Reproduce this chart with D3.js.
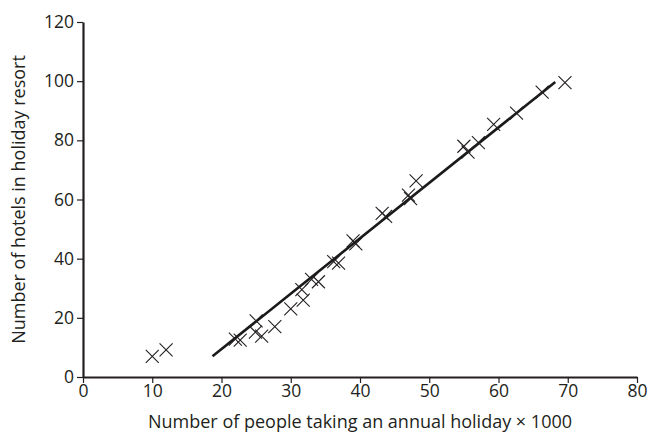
<!DOCTYPE html>
<html>
<head>
<meta charset="utf-8">
<script src="https://cdn.jsdelivr.net/npm/d3@7"></script>
<style>
  html, body { margin: 0; padding: 0; background: #fff; }
  text { font-family: "Open Sans", "Noto Sans", sans-serif; fill: #231f20; }
</style>
</head>
<body>
<div id="chart"></div>
<script>
// people taking an annual holiday (x1000) vs hotels in the resort
const people = [10, 12, 22, 22.7, 25, 24.9, 25.8, 27.7, 30, 31.8, 31.6, 33, 34, 36.2, 36.9, 39, 39.4,
  43.2, 43.7, 47, 47.3, 48.1, 55, 55.6, 57.1, 59.3, 62.6, 66.3, 69.6];
const hotels = [7, 9.2, 12.8, 12.5, 19, 15.2, 13.8, 17, 23, 26, 29.5, 33, 32.2, 39, 38.5, 46, 45,
  55.3, 54.3, 61.5, 60.3, 66.3, 78, 76, 79.2, 85.4, 89.2, 96.3, 99.5];
const fitX = [18.7, 68.2];
const fitY = [7, 99.7];
const xTicks = [0, 10, 20, 30, 40, 50, 60, 70, 80];
const yTicks = [0, 20, 40, 60, 80, 100, 120];

const width = 649;
const height = 438;
const margin = { top: 22, right: 12, bottom: 61, left: 83 };

const svg = d3.select("#chart")
  .append("svg")
  .attr("width", width)
  .attr("height", height);

const x = d3.scaleLinear().domain([0, 80]).range([margin.left, width - margin.right]);
const y = d3.scaleLinear().domain([0, 120]).range([height - margin.bottom, margin.top]);

const ink = "#231f20";

// axes
const xAxis = svg.append("g")
  .attr("transform", `translate(0,${y(0)})`)
  .call(d3.axisBottom(x).tickValues(xTicks).tickSize(6).tickPadding(2).tickSizeOuter(0));
const yAxis = svg.append("g")
  .attr("transform", `translate(${x(0)},0)`)
  .call(d3.axisLeft(y).tickValues(yTicks).tickSize(6).tickPadding(3).tickSizeOuter(0));

[xAxis, yAxis].forEach(g => {
  g.select(".domain").attr("stroke", ink).attr("stroke-width", 2.2);
  g.selectAll(".tick line").attr("stroke", ink).attr("stroke-width", 1.2);
  g.selectAll(".tick text").attr("font-size", 17.5).attr("fill", ink)
    .style("font-family", "'Open Sans', 'Noto Sans', sans-serif");
});

// fitted line
svg.append("line")
  .attr("x1", x(fitX[0])).attr("y1", y(fitY[0]))
  .attr("x2", x(fitX[1])).attr("y2", y(fitY[1]))
  .attr("stroke", "#1a1a1a")
  .attr("stroke-width", 2.6);

// cross markers
const r = 6.5;
const pts = people.map((p, i) => [p, hotels[i]]);
svg.append("g")
  .selectAll("path")
  .data(pts)
  .enter()
  .append("path")
  .attr("d", d => {
    const cx = x(d[0]), cy = y(d[1]);
    return `M${cx - r},${cy - r}L${cx + r},${cy + r}M${cx - r},${cy + r}L${cx + r},${cy - r}`;
  })
  .attr("stroke", ink)
  .attr("stroke-width", 1.1)
  .attr("fill", "none");

// axis titles
svg.append("text")
  .attr("x", (x(0) + x(80)) / 2)
  .attr("y", 428)
  .attr("text-anchor", "middle")
  .attr("font-size", 18)
  .text("Number of people taking an annual holiday \u00d7 1000");

svg.append("text")
  .attr("transform", `translate(25,${(y(0) + y(120)) / 2}) rotate(-90)`)
  .attr("text-anchor", "middle")
  .attr("font-size", 18)
  .text("Number of hotels in holiday resort");
</script>
</body>
</html>
